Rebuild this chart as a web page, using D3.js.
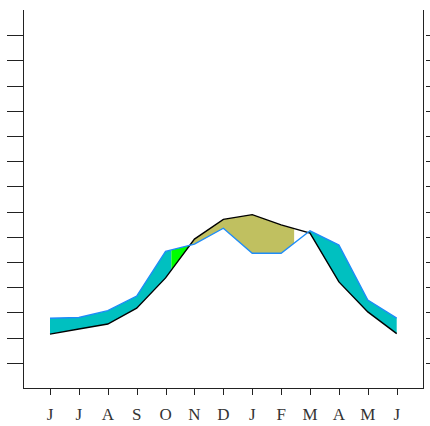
<!DOCTYPE html>
<html><head><meta charset="utf-8">
<script src="https://cdn.jsdelivr.net/npm/d3@7"></script>
<style>body{margin:0;background:#fff}svg{display:block}</style>
</head><body>
<script>
const months = ["J","J","A","S","O","N","D","J","F","M","A","M","J"];
const blackSeries = [2.14,2.34,2.54,3.17,4.37,5.91,6.69,6.88,6.47,6.15,4.21,3.02,2.16];
const blueSeries  = [2.77,2.80,3.07,3.65,5.42,5.71,6.34,5.35,5.35,6.24,5.67,3.49,2.77];
const yTicks = [1,2,3,4,5,6,7,8,9,10,11,12,13,14];
const greenStart = 4.2;     // month index where green fill begins
const oliveEnd = 8.45;      // month index where olive fill ends

const W=430,H=426;
const svg=d3.select("body").append("svg").attr("width",W).attr("height",H);
const x=d3.scaleLinear().domain([0,12]).range([50,396.7]);
const y=d3.scaleLinear().domain([0,15]).range([388,10]);
const idx=months.map((m,i)=>i);

function crossings(){
  const pts=[];
  for(let i=0;i<12;i++){
    const d0=blueSeries[i]-blackSeries[i], d1=blueSeries[i+1]-blackSeries[i+1];
    if(d0*d1<0){pts.push(i+d0/(d0-d1));}
  }
  return pts;
}
function valAt(arr,t){const i=Math.min(Math.floor(t),11);const f=t-i;return arr[i]+(arr[i+1]-arr[i])*f;}
const cross=crossings();
const samples=[...idx,...cross,greenStart,oliveEnd].sort((a,b)=>a-b);
function regionPath(lo,hi,top,bot){
  const pts=samples.filter(t=>t>=lo-1e-9&&t<=hi+1e-9);
  return d3.area().x(t=>x(t)).y0(t=>y(valAt(bot,t))).y1(t=>y(valAt(top,t)))(pts);
}
const c1=cross[0], c2=cross[1];
svg.append("path").attr("d",regionPath(0,greenStart,blueSeries,blackSeries)).attr("fill","#00c0c0");
svg.append("path").attr("d",regionPath(greenStart,c1,blueSeries,blackSeries)).attr("fill","#00ff00");
svg.append("path").attr("d",regionPath(c1,oliveEnd,blackSeries,blueSeries)).attr("fill","#c0c060");
svg.append("path").attr("d",regionPath(c2,12,blueSeries,blackSeries)).attr("fill","#00c0c0");

const line=d3.line().x((d,i)=>x(i)).y(d=>y(d));
svg.append("path").attr("d",line(blackSeries)).attr("fill","none").attr("stroke","#000").attr("stroke-width",1.4);
svg.append("path").attr("d",line(blueSeries)).attr("fill","none").attr("stroke","#1e8cf8").attr("stroke-width",1.4);

const ax="#222";
svg.append("line").attr("x1",23.5).attr("x2",23.5).attr("y1",y(15)).attr("y2",388.5).attr("stroke",ax);
svg.append("line").attr("x1",423.5).attr("x2",423.5).attr("y1",y(15)).attr("y2",388.5).attr("stroke",ax);
svg.append("line").attr("x1",23).attr("x2",424).attr("y1",388.5).attr("y2",388.5).attr("stroke",ax);
yTicks.forEach(v=>{
  const yy=Math.round(y(v))+0.5;
  svg.append("line").attr("x1",7).attr("x2",23).attr("y1",yy).attr("y2",yy).attr("stroke",ax);
  svg.append("line").attr("x1",426).attr("x2",430).attr("y1",yy).attr("y2",yy).attr("stroke",ax);
});
months.forEach((m,i)=>{
  const xx=Math.round(x(i))+0.5;
  svg.append("line").attr("x1",xx).attr("x2",xx).attr("y1",388).attr("y2",395).attr("stroke",ax);
  svg.append("text").attr("x",x(i)).attr("y",420).attr("text-anchor","middle")
    .attr("font-family","'Liberation Serif', serif").attr("font-size",17).attr("fill","#333").text(m);
});
</script>
</body></html>
